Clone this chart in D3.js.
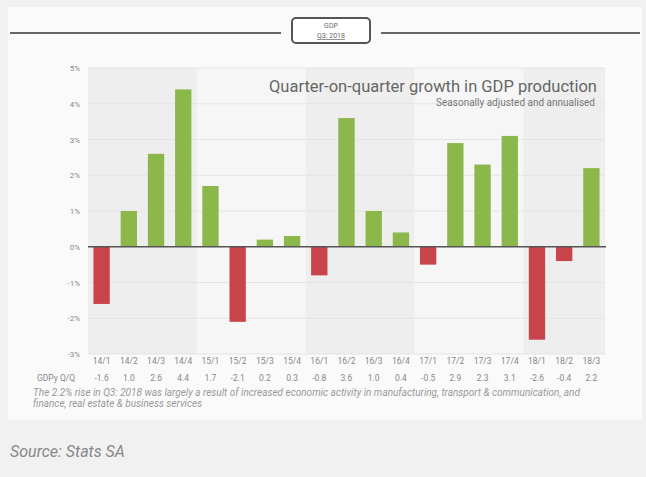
<!DOCTYPE html>
<html><head><meta charset="utf-8">
<script src="https://cdn.jsdelivr.net/npm/d3@7"></script>
<style>body{margin:0;background:#f1f1f1}svg{display:block}</style>
</head><body>
<script>
const categories = ["14/1","14/2","14/3","14/4","15/1","15/2","15/3","15/4","16/1","16/2","16/3","16/4","17/1","17/2","17/3","17/4","18/1","18/2","18/3"];
const values = [-1.6,1.0,2.6,4.4,1.7,-2.1,0.2,0.3,-0.8,3.6,1.0,0.4,-0.5,2.9,2.3,3.1,-2.6,-0.4,2.2];
const yTicks = [5,4,3,2,1,0,-1,-2,-3];
const years = ["14","15","16","17","18"];

const W = 646, H = 477;
const svg = d3.select("body").append("svg").attr("width", W).attr("height", H);
const font = "Roboto, 'Open Sans', sans-serif";

svg.append("rect").attr("width", W).attr("height", H).attr("fill", "#f1f1f1");
svg.append("rect").attr("x", 8).attr("y", 7).attr("width", 634).attr("height", 413).attr("fill", "#fafafa");

// header
svg.append("line").attr("x1", 10).attr("x2", 281).attr("y1", 33).attr("y2", 33).attr("stroke", "#666").attr("stroke-width", 2);
svg.append("line").attr("x1", 381).attr("x2", 640).attr("y1", 33).attr("y2", 33).attr("stroke", "#666").attr("stroke-width", 2);
svg.append("rect").attr("x", 292).attr("y", 18).attr("width", 78).attr("height", 25).attr("rx", 4)
  .attr("fill", "#fff").attr("stroke", "#555").attr("stroke-width", 2);
svg.append("text").attr("x", 331).attr("y", 28).attr("text-anchor", "middle").attr("font-family", font).attr("font-size", 7).attr("fill", "#666").text("GDP");
svg.append("text").attr("x", 331).attr("y", 38).attr("text-anchor", "middle").attr("font-family", font).attr("font-size", 7).attr("fill", "#666").attr("text-decoration", "underline").text("Q3: 2018");

const x = d3.scaleBand().domain(categories).range([88, 605]).paddingInner(0.4).paddingOuter(0.2);
const y = d3.scaleLinear().domain([-3, 5]).range([354, 68]);
const step = x.step();

// year bands
years.forEach((yr, i) => {
  const cats = categories.filter(c => c.startsWith(yr + "/"));
  const x0 = x(cats[0]) - x.paddingOuter() * step;
  const x1 = x(cats[cats.length - 1]) + x.bandwidth() + x.paddingOuter() * step;
  svg.append("rect").attr("x", x0).attr("y", y(5)).attr("width", x1 - x0).attr("height", y(-3) - y(5))
    .attr("fill", i % 2 === 0 ? "#eeeeee" : "#f6f6f6");
});

// gridlines
svg.append("g").selectAll("line").data(yTicks.filter(t => t !== 0)).join("line")
  .attr("x1", 88).attr("x2", 605).attr("y1", d => y(d)).attr("y2", d => y(d))
  .attr("stroke", "#e4e4e4").attr("stroke-width", 1);

// y axis labels
const yAxis = d3.axisLeft(y).tickValues(yTicks).tickSize(0).tickPadding(8).tickFormat(d => d + "%");
const gy = svg.append("g").attr("transform", "translate(88,0)").call(yAxis);
gy.select(".domain").remove();
gy.selectAll("text").attr("font-family", font).attr("font-size", 8).attr("fill", "#888");

// bars
svg.append("g").selectAll("rect").data(values).join("rect")
  .attr("x", (d, i) => x(categories[i]))
  .attr("width", x.bandwidth())
  .attr("y", d => y(Math.max(0, d)))
  .attr("height", d => Math.abs(y(d) - y(0)))
  .attr("fill", d => d >= 0 ? "#8cb84b" : "#c8444a");

// zero line
svg.append("line").attr("x1", 88).attr("x2", 606).attr("y1", y(0)).attr("y2", y(0)).attr("stroke", "#555").attr("stroke-width", 1.5);

// title
svg.append("text").attr("x", 597).attr("y", 92).attr("text-anchor", "end").attr("font-family", font).attr("font-size", 16.5).attr("fill", "#666").text("Quarter-on-quarter growth in GDP production");
svg.append("text").attr("x", 595).attr("y", 106).attr("text-anchor", "end").attr("font-family", font).attr("font-size", 10).attr("fill", "#777").text("Seasonally adjusted and annualised");

// x labels
const xAxis = d3.axisBottom(x).tickSize(0).tickPadding(0);
const gx = svg.append("g").attr("transform", "translate(0,358)").call(xAxis);
gx.select(".domain").remove();
gx.selectAll("text").attr("font-family", font).attr("font-size", 8.5).attr("fill", "#888");

svg.append("g").selectAll("text").data(values).join("text")
  .attr("x", (d, i) => x(categories[i]) + x.bandwidth() / 2).attr("y", 381)
  .attr("text-anchor", "middle").attr("font-family", font).attr("font-size", 8.5).attr("fill", "#888")
  .text(d => d.toFixed(1));
svg.append("text").attr("x", 37).attr("y", 381).attr("font-family", font).attr("font-size", 8.5).attr("fill", "#888").text("GDPy Q/Q");

// footnote
const fn = ["The 2.2% rise in Q3: 2018 was largely a result of increased economic activity in manufacturing, transport & communication, and",
  "finance, real estate & business services"];
svg.append("g").selectAll("text").data(fn).join("text")
  .attr("x", 33).attr("y", (d, i) => 396 + i * 11).attr("font-family", font).attr("font-size", 10)
  .attr("font-style", "italic").attr("fill", "#999").text(d => d);

svg.append("text").attr("x", 10).attr("y", 457).attr("font-family", font).attr("font-size", 16)
  .attr("font-style", "italic").attr("fill", "#888").text("Source: Stats SA");
</script>
</body></html>
